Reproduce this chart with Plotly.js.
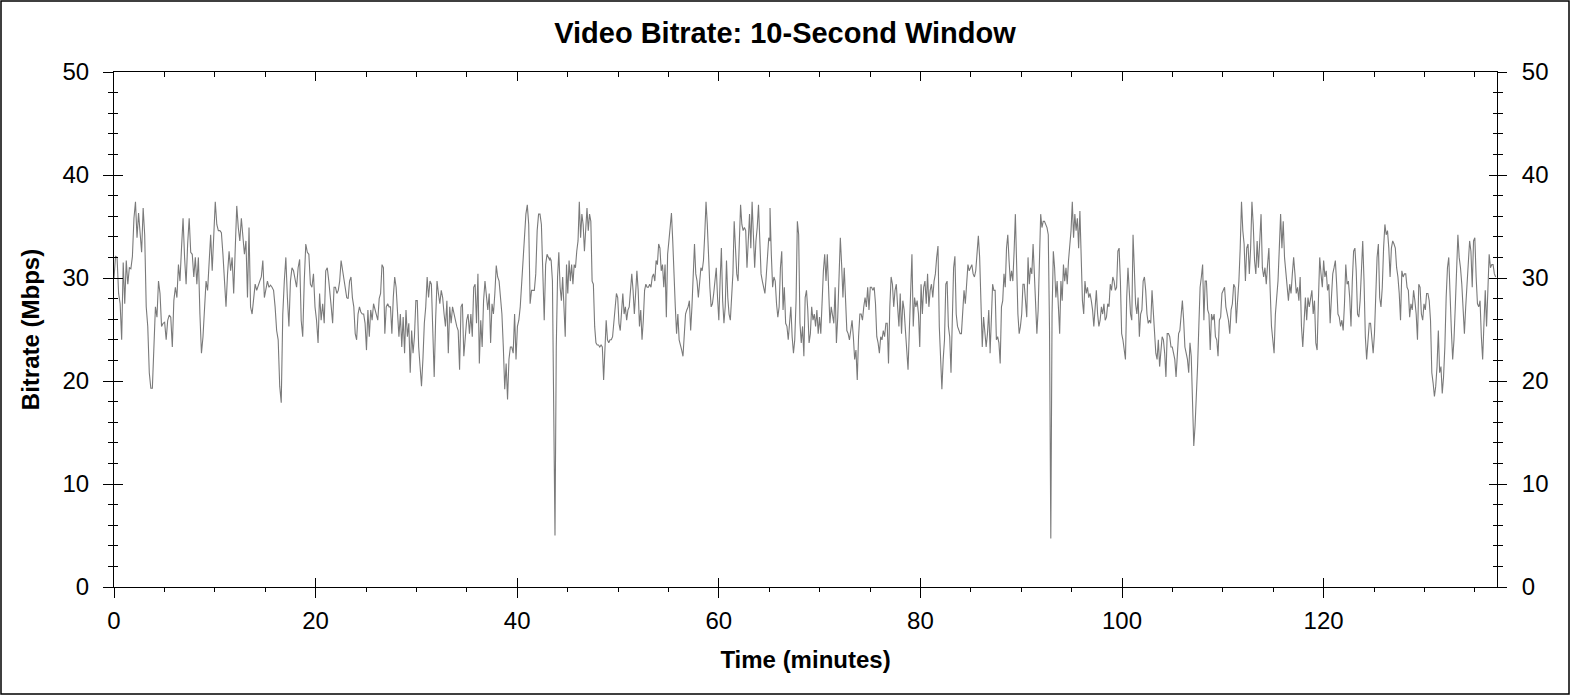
<!DOCTYPE html>
<html>
<head>
<meta charset="utf-8">
<script src="https://cdn.plot.ly/plotly-3.0.1.min.js"></script>
<style>
  html, body { margin: 0; padding: 0; background: #fff; }
  #chart { width: 1570px; height: 695px; }
</style>
</head>
<body>
<div id="chart"></div>
<script>
  // Bitrate trace in six chunks; each chunk spans
  // segStartMin[i]..segEndMin[i] minutes with evenly spaced samples.
  const segStartMin = [0, 21.41, 43.24, 65.08, 86.91, 108.75];
  const segEndMin = [21.31, 43.24, 65.08, 86.91, 108.75, 137.07];

  const bitrateA = [30.0, 32.1, 32.0, 28.5, 27.5, 24.0, 31.5, 27.5, 31.7, 29.4, 31.0, 30.9, 32.1, 35.8, 37.4, 33.9,
    36.3, 34.6, 32.5, 36.8, 34.2, 27.2, 25.3, 20.8, 19.3, 19.3, 23.3, 27.2, 26.2, 29.7, 28.5, 25.3, 25.6, 25.7,
    24.0, 25.9, 26.4, 26.2, 23.3, 27.8, 29.1, 28.1, 31.3, 29.7, 32.9, 35.8, 32.0, 29.4, 33.3, 35.8, 32.5, 32.3,
    30.1, 32.0, 29.4, 32.0, 26.5, 22.7, 24.3, 26.5, 29.7, 28.8, 31.7, 34.2, 30.7, 33.6, 37.4, 35.2, 34.6, 34.6,
    34.4, 32.3, 29.1, 27.2, 30.4, 32.6, 30.7, 32.0, 28.5, 32.9, 37.0, 34.9, 33.6, 35.8, 34.2, 32.3, 33.6, 28.1,
    34.9, 27.2, 26.5, 28.1, 29.4, 28.8, 29.4, 29.7, 30.1, 31.7, 28.1, 28.8, 29.7, 29.1, 29.3, 29.1, 28.8, 27.2,
    24.9, 24.0, 19.5, 17.9, 26.5, 29.7, 32.0, 28.1, 25.3, 29.7, 31.0, 30.7, 29.7, 29.1, 31.0, 31.8, 25.9, 24.3,
    29.7, 33.3, 32.5, 32.3, 29.4, 29.1, 30.4, 27.2, 25.9, 23.7, 28.5, 25.9, 27.5, 25.6, 30.7, 31.0, 29.7];

  const bitrateB = [28.8, 27.2, 25.6, 29.1, 29.1, 28.5, 28.8, 29.7, 31.7, 30.7, 30.1, 28.8, 28.1, 28.0, 29.7, 30.1,
    28.1, 27.2, 24.6, 24.0, 26.5, 27.2, 26.7, 26.5, 26.5, 25.6, 23.0, 26.9, 24.3, 26.9, 25.9, 27.5, 26.9, 26.2,
    25.9, 28.0, 28.5, 31.3, 31.0, 24.6, 27.2, 27.5, 27.2, 27.2, 24.6, 28.1, 30.1, 29.1, 26.5, 24.3, 26.5, 23.3,
    26.2, 22.7, 26.9, 24.3, 25.6, 20.8, 24.9, 22.7, 24.3, 27.8, 27.8, 23.3, 21.4, 19.5, 22.1, 25.6, 27.2, 30.1,
    28.1, 29.7, 29.4, 24.6, 20.4, 25.9, 29.7, 28.5, 27.5, 28.8, 28.1, 26.5, 25.3, 27.8, 22.7, 27.2, 25.6, 27.2,
    26.5, 25.9, 25.3, 24.9, 21.1, 27.2, 27.5, 22.4, 24.3, 25.9, 26.5, 24.6, 26.5, 24.3, 29.1, 29.4, 25.6, 30.4,
    21.7, 25.9, 23.3, 27.8, 29.7, 28.5, 26.9, 28.5, 23.7, 27.5, 26.5, 28.5, 31.2, 30.1, 29.7, 28.1, 26.5, 23.3,
    19.2, 21.7, 18.2, 22.1, 23.3, 23.3, 22.7, 26.5, 22.1, 25.3, 25.9, 27.2, 29.7, 32.0, 34.9, 36.2, 37.1, 35.2,
    27.5, 28.8, 28.8, 28.8, 30.4, 34.6, 36.2, 36.2, 35.2, 31.3, 25.9, 31.3, 32.3, 32.0, 31.7];

  const bitrateC = [32.0, 31.7, 29.7, 20.1, 5.0, 23.3, 30.1, 32.5, 29.1, 27.8, 30.1, 27.2, 24.3, 31.3, 28.5, 31.7,
    29.7, 31.3, 29.4, 31.3, 31.0, 32.6, 33.6, 37.4, 33.9, 36.2, 35.2, 32.6, 35.2, 36.8, 34.6, 36.2, 35.5, 29.7,
    29.4, 25.3, 23.7, 23.5, 23.5, 23.3, 23.5, 23.3, 20.1, 23.7, 25.9, 24.0, 23.7, 24.0, 24.0, 24.3, 25.9, 27.8,
    28.5, 28.1, 25.6, 24.9, 27.2, 28.5, 26.5, 27.2, 25.9, 26.9, 27.2, 29.1, 30.4, 28.8, 26.5, 28.5, 30.7, 28.8,
    25.3, 26.9, 24.0, 25.9, 28.8, 29.4, 29.1, 29.1, 29.4, 29.1, 30.1, 30.4, 29.7, 31.7, 31.3, 33.3, 32.9, 30.7,
    31.3, 29.1, 31.3, 26.2, 32.3, 33.6, 35.2, 36.3, 33.6, 29.7, 27.2, 24.6, 26.5, 24.0, 23.3, 23.0, 22.4, 25.3,
    26.5, 26.9, 27.2, 27.8, 24.9, 27.2, 30.1, 33.3, 30.4, 29.7, 28.1, 30.1, 31.0, 30.7, 31.7, 34.2, 37.4, 35.2,
    31.7, 29.1, 27.2, 27.5, 28.5, 29.7, 31.0, 28.1, 25.9, 29.7, 32.9, 27.8, 25.6, 27.2, 31.7, 28.1, 26.5, 25.9,
    28.1, 30.4, 35.5, 32.0, 30.4, 29.7, 32.9, 37.1, 35.2, 34.6, 34.9, 34.6, 31.0, 34.2, 36.2, 32.9, 37.4, 34.2,
    31.0, 33.6, 34.9, 37.1, 32.9, 30.4, 29.7, 29.1, 28.5, 30.1, 31.7, 33.9, 33.6];

  const bitrateD = [36.8, 32.3, 29.1, 30.1, 29.7, 27.5, 26.2, 27.2, 31.0, 32.6, 26.9, 29.1, 25.6, 25.3, 24.0, 25.6,
    27.2, 24.3, 22.7, 24.0, 27.8, 35.5, 34.2, 25.6, 23.7, 25.3, 22.4, 28.1, 28.8, 26.9, 23.7, 24.6, 27.2, 25.9,
    26.5, 25.3, 26.9, 24.6, 26.2, 24.6, 28.8, 30.7, 32.3, 29.7, 32.3, 28.8, 25.6, 27.2, 26.5, 25.6, 29.1, 23.7,
    26.2, 29.7, 33.9, 31.3, 28.1, 31.0, 27.5, 24.9, 24.6, 24.0, 24.9, 25.9, 24.3, 22.1, 23.0, 20.1, 24.3, 26.5,
    26.5, 25.9, 27.2, 28.1, 27.2, 29.1, 26.9, 29.1, 29.1, 28.8, 29.1, 27.5, 24.3, 23.7, 22.7, 24.3, 24.0, 24.9,
    24.3, 25.6, 25.6, 21.7, 27.2, 30.1, 29.4, 27.2, 28.8, 29.4, 27.2, 25.3, 28.5, 24.6, 27.8, 26.9, 24.9, 23.3,
    21.1, 24.9, 29.7, 32.3, 25.3, 28.1, 27.2, 27.8, 26.5, 23.3, 29.4, 26.5, 29.1, 29.7, 27.5, 30.4, 27.2, 28.8,
    29.4, 28.1, 29.7, 30.4, 32.0, 33.1, 25.3, 21.4, 19.2, 22.1, 24.0, 29.4, 29.7, 25.3, 24.3, 20.8, 27.2, 31.0,
    32.1, 26.5, 25.3, 24.9, 24.6, 24.6, 26.5, 28.8, 27.5, 29.7, 31.3, 30.7, 31.0, 31.3, 30.4, 30.1, 30.7, 32.3,
    34.1, 32.0, 27.8, 23.3, 26.2, 24.9, 23.3, 24.6, 26.9, 23.0];

  const bitrateE = [22.7, 25.9, 29.4, 28.8, 28.8, 24.0, 24.3, 23.7, 21.7, 27.2, 27.8, 30.4, 29.1, 32.9, 34.2, 31.7,
    29.7, 30.7, 29.7, 32.6, 36.2, 31.3, 26.5, 24.6, 25.3, 26.5, 29.4, 29.4, 27.8, 26.2, 32.0, 29.4, 31.0, 30.4,
    33.3, 30.4, 25.9, 24.6, 26.9, 31.0, 36.2, 34.9, 35.5, 35.5, 35.2, 34.9, 34.2, 24.9, 4.7, 26.5, 32.6, 31.0,
    28.1, 29.7, 27.2, 24.6, 29.7, 27.8, 31.3, 29.7, 31.0, 29.4, 31.7, 32.9, 34.6, 37.4, 33.9, 36.2, 34.6, 35.8,
    32.9, 36.5, 30.4, 27.8, 26.5, 29.7, 28.5, 29.1, 28.1, 28.5, 27.8, 26.9, 25.3, 27.2, 28.8, 26.5, 25.3, 25.9,
    27.2, 26.5, 27.5, 25.9, 26.2, 27.5, 27.2, 29.4, 28.8, 30.1, 29.7, 28.8, 29.1, 32.6, 32.9, 29.7, 24.6, 24.0,
    23.0, 22.1, 28.1, 31.0, 28.8, 26.5, 25.9, 34.2, 31.0, 27.5, 26.5, 28.1, 24.3, 26.5, 26.9, 29.7, 30.1, 28.8,
    26.5, 25.6, 25.9, 25.6, 28.8, 26.5, 25.3, 22.7, 22.1, 24.0, 21.4, 23.3, 24.3, 24.0, 22.7, 20.4, 24.6, 24.6,
    24.3, 23.3, 23.3, 22.7, 22.1, 20.4, 23.0, 24.6, 24.9, 26.2, 27.8, 25.9, 23.3, 22.7, 22.1, 20.8, 23.7, 22.4,
    18.2, 13.7, 15.6, 18.2, 21.4, 25.3, 29.1, 30.1, 31.3, 25.9, 29.7, 29.7, 26.9, 26.5, 23.3];

  const bitrateF = [23.0, 26.5, 25.9, 26.5, 24.3, 24.0, 22.4, 25.9, 26.2, 28.5, 28.8, 29.1, 27.2, 26.5, 25.9, 24.6,
    26.9, 27.5, 29.4, 29.1, 25.6, 27.8, 29.7, 32.9, 37.4, 34.6, 33.3, 29.7, 32.9, 33.3, 30.4, 32.9, 37.4, 35.2,
    31.7, 30.4, 33.6, 31.0, 33.6, 36.2, 31.0, 30.1, 31.0, 29.4, 31.3, 32.9, 28.8, 25.3, 24.0, 22.7, 26.5, 28.1,
    29.7, 32.9, 36.2, 32.9, 35.5, 32.0, 30.4, 28.8, 27.8, 29.4, 28.5, 30.4, 32.0, 30.4, 28.5, 29.1, 27.8, 30.1,
    25.3, 23.3, 25.9, 28.1, 25.9, 28.1, 27.2, 28.1, 28.8, 26.5, 27.8, 23.7, 23.0, 27.8, 32.0, 30.4, 29.1, 31.7,
    30.1, 30.7, 28.8, 29.4, 25.6, 28.1, 30.4, 31.0, 31.7, 29.4, 26.5, 26.2, 25.3, 25.9, 24.9, 27.5, 31.3, 29.4,
    29.7, 28.1, 25.3, 29.7, 32.6, 32.9, 30.7, 26.5, 26.2, 27.8, 31.0, 33.6, 29.7, 24.3, 22.1, 23.7, 25.6, 25.6,
    24.3, 22.7, 24.6, 28.1, 32.0, 33.3, 28.1, 27.2, 29.1, 32.9, 35.2, 34.2, 34.6, 32.9, 30.1, 32.9, 33.6, 33.3,
    32.9, 31.0, 30.1, 28.5, 25.9, 30.7, 30.1, 30.4, 30.4, 29.1, 28.8, 26.2, 27.5, 26.9, 28.8, 27.8, 26.5, 24.0,
    29.4, 29.1, 26.5, 25.9, 27.5, 26.9, 28.5, 28.5, 27.8, 25.9, 20.8, 19.8, 18.5, 19.5, 21.4, 24.9, 20.8, 21.4,
    18.8, 20.4, 23.3, 28.1, 31.0, 32.0, 27.2, 24.9, 22.1, 24.0, 27.2, 31.3, 34.2, 32.0, 31.0, 29.4, 27.2, 24.6,
    27.2, 29.7, 31.3, 33.6, 32.6, 29.1, 33.6, 33.9, 30.1, 27.5, 27.2, 27.8, 24.3, 22.1, 25.6, 28.8, 25.3, 28.8,
    32.3, 31.0, 31.3, 31.3, 30.4, 30.1];

  const segments = [bitrateA, bitrateB, bitrateC, bitrateD, bitrateE, bitrateF];

  const xRange = [0, 137.2];
  const yRange = [0, 50];

  // ---- Assemble one continuous series ----
  const timeMin = [];
  const mbps = [];
  segments.forEach((vals, i) => {
    const step = (segEndMin[i] - segStartMin[i]) / (vals.length - 1);
    vals.forEach((v, j) => {
      timeMin.push(segStartMin[i] + j * step);
      mbps.push(v);
    });
  });

  const W = 1570, H = 695;
  const M = { l: 114, r: 73, t: 72, b: 108 };
  const FONT = "Liberation Sans, Arial, sans-serif";
  const tickFont = { family: FONT, size: 24, color: "#000" };
  const titleFont = { family: FONT, size: 24, color: "#000", weight: "bold" };

  // Plotly can't draw ticks that cross the axis line, so each side gets an
  // outside axis plus an overlaid inside-only axis.
  function ax(extra) {
    return Object.assign({
      showgrid: false,
      zeroline: false,
      fixedrange: true,
      automargin: false,
      tickcolor: "#000",
      tickwidth: 1,
      linecolor: "#000",
      linewidth: 1,
    }, extra);
  }

  const layout = {
    width: W,
    height: H,
    margin: M,
    paper_bgcolor: "white",
    plot_bgcolor: "white",
    showlegend: false,
    font: { family: FONT, color: "#000" },
    title: {
      text: "Video Bitrate: 10-Second Window",
      font: { family: FONT, size: 29, color: "#000", weight: "bold" },
      xref: "container", x: 0.5, xanchor: "center",
      yref: "container", y: 1 - 33 / H, yanchor: "middle",
    },
    xaxis: ax({
      range: xRange, tick0: 0, dtick: 20,
      ticks: "outside", ticklen: 10, showline: true,
      tickfont: tickFont, ticklabelstandoff: 2,
      minor: { tick0: 0, dtick: 5, ticks: "outside", ticklen: 4, tickcolor: "#000" },
      title: { text: "Time (minutes)", font: titleFont, standoff: 18 },
    }),
    xaxis2: ax({
      overlaying: "x", anchor: "y", side: "bottom", range: xRange,
      tick0: 0, dtick: 20, ticks: "inside", ticklen: 9, showticklabels: false,
    }),
    xaxis3: ax({
      overlaying: "x", anchor: "y", side: "top", range: xRange,
      tick0: 0, dtick: 20, ticks: "inside", ticklen: 9, showline: true, showticklabels: false,
      minor: { tick0: 0, dtick: 5, ticks: "inside", ticklen: 5, tickcolor: "#000" },
    }),
    yaxis: ax({
      range: yRange, tick0: 0, dtick: 10,
      ticks: "outside", ticklen: 10, showline: true,
      tickfont: tickFont, ticklabelstandoff: 9,
      minor: { tick0: 0, dtick: 2, ticks: "outside", ticklen: 5, tickcolor: "#000" },
      title: { text: "Bitrate (Mbps)", font: titleFont, standoff: 16 },
    }),
    yaxis2: ax({
      overlaying: "y", anchor: "x", side: "left", range: yRange,
      tick0: 0, dtick: 10, ticks: "inside", ticklen: 9, showticklabels: false,
      minor: { tick0: 0, dtick: 2, ticks: "inside", ticklen: 4, tickcolor: "#000" },
    }),
    yaxis3: ax({
      overlaying: "y", anchor: "x", side: "right", range: yRange,
      tick0: 0, dtick: 10, ticks: "outside", ticklen: 9, showline: true,
      tickfont: tickFont, ticklabelstandoff: 10,
      minor: { tick0: 0, dtick: 2, ticks: "outside", ticklen: 5, tickcolor: "#000" },
    }),
    yaxis4: ax({
      overlaying: "y", anchor: "x", side: "right", range: yRange,
      tick0: 0, dtick: 10, ticks: "inside", ticklen: 8, showticklabels: false,
      minor: { tick0: 0, dtick: 2, ticks: "inside", ticklen: 4, tickcolor: "#000" },
    }),
    shapes: [],
  };

  // Thin black frame around the whole image.
  const pw = W - M.l - M.r, ph = H - M.t - M.b;
  layout.shapes.push({
    type: "rect", xref: "paper", yref: "paper", layer: "above",
    x0: (1 - M.l) / pw, x1: (W - 1 - M.l) / pw,
    y0: -(M.b - 1) / ph, y1: 1 + (M.t - 1) / ph,
    line: { color: "#000", width: 1.5 },
  });

  const traces = [
    {
      type: "scatter", mode: "lines",
      x: timeMin, y: mbps,
      line: { color: "#7a7a7a", width: 1.1 },
      hoverinfo: "skip",
    },
    // empty helpers so the overlay axes get registered
    { type: "scatter", mode: "lines", x: [], y: [], xaxis: "x2", yaxis: "y2", hoverinfo: "skip" },
    { type: "scatter", mode: "lines", x: [], y: [], xaxis: "x3", yaxis: "y3", hoverinfo: "skip" },
    { type: "scatter", mode: "lines", x: [], y: [], xaxis: "x2", yaxis: "y4", hoverinfo: "skip" },
  ];

  Plotly.newPlot("chart", traces, layout, { displayModeBar: false, staticPlot: true });
</script>
</body>
</html>
